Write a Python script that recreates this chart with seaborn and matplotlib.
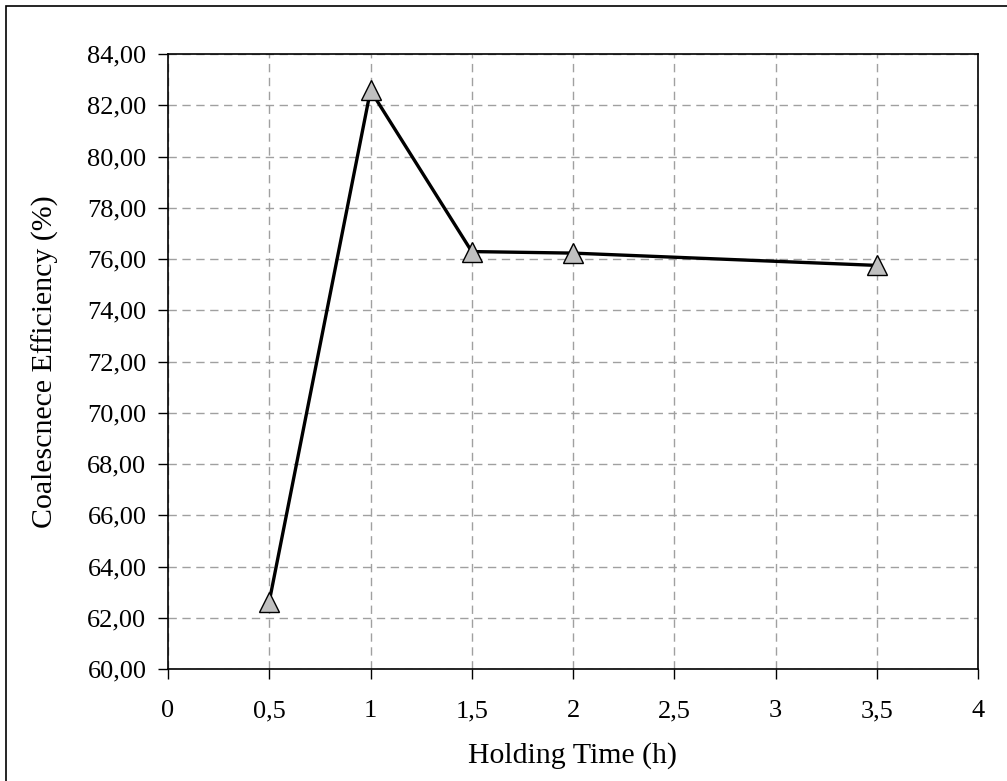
import matplotlib
matplotlib.use("Agg")
import matplotlib.pyplot as plt
import seaborn as sns
import pandas as pd
from matplotlib.patches import Rectangle
from matplotlib.ticker import FuncFormatter, MultipleLocator

holding_time = [0.5, 1.0, 1.5, 2.0, 3.5]
efficiency = [62.63, 82.58, 76.29, 76.23, 75.75]
x_label = "Holding Time (h)"
y_label = "Coalescnece Efficiency (%)"

df = pd.DataFrame({"t": holding_time, "e": efficiency})

sns.set_theme(style="white")
plt.rcParams["font.family"] = ["Liberation Serif", "DejaVu Serif"]

W, H = 1007, 781
fig = plt.figure(figsize=(W / 100, H / 100), dpi=100)
ax = fig.add_axes([168 / W, 1 - 669 / H, (978 - 168) / W, (669 - 54) / H])

sns.lineplot(data=df, x="t", y="e", ax=ax, color="black", linewidth=2.4,
             marker="^", markersize=14.5, markerfacecolor="#c0c0c0",
             markeredgecolor="black", markeredgewidth=1.0, zorder=3)

ax.set_xlim(0, 4)
ax.set_ylim(60, 84)
ax.xaxis.set_major_locator(MultipleLocator(0.5))
ax.yaxis.set_major_locator(MultipleLocator(2))
ax.xaxis.set_major_formatter(FuncFormatter(lambda v, p: (f"{v:g}").replace(".", ",")))
ax.yaxis.set_major_formatter(FuncFormatter(lambda v, p: f"{v:.2f}".replace(".", ",")))

ax.grid(True, color="#a0a0a0", linestyle=(0, (6, 4)), linewidth=1.0)
ax.set_axisbelow(True)
for s in ax.spines.values():
    s.set_visible(True)
    s.set_color("black")
    s.set_linewidth(1.2)

ax.tick_params(axis="both", direction="out", length=7, width=1.0, color="black",
               labelsize=19, labelcolor="black", left=True, bottom=True)
ax.tick_params(axis="x", pad=15.5)
ax.tick_params(axis="y", pad=8.5)

ax.set_xlabel(x_label, fontsize=21.5, color="black", labelpad=14.5)
ax.set_ylabel(y_label, fontsize=21.5, color="black", labelpad=20.5)

fig.patches.append(Rectangle((6 / W, -0.05), 1.1, 1 - 6 / H + 0.05,
                             transform=fig.transFigure, fill=False,
                             edgecolor="black", linewidth=1.2))

fig.savefig("out.png", dpi=100, facecolor="white")
